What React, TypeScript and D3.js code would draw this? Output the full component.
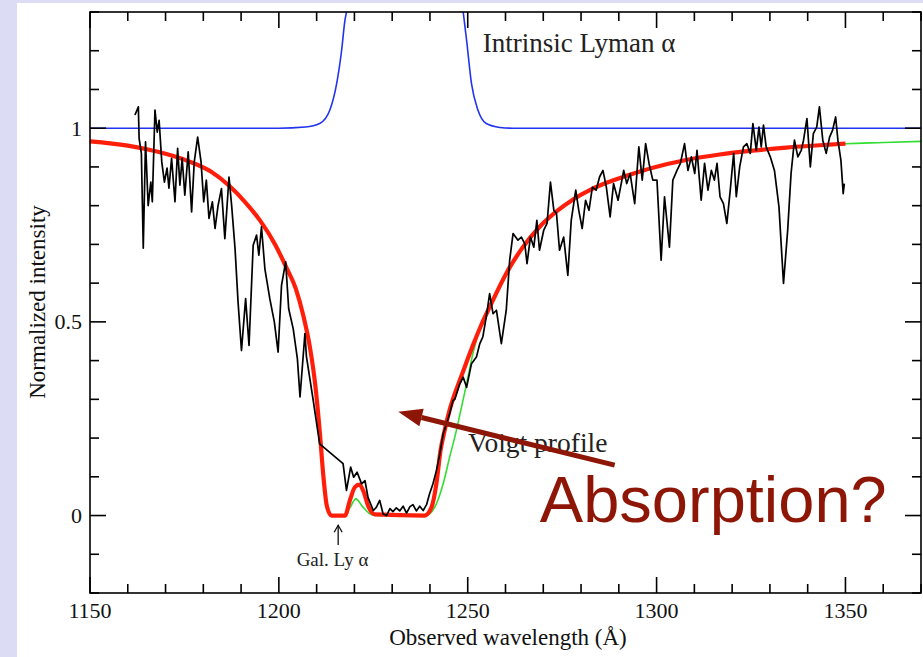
import { useEffect, useRef } from 'react';
import * as d3 from 'd3';

// Observed spectrum (black)
const spectrumWave = [
  1161.9, 1162.8, 1163.0, 1163.6, 1164.1, 1164.7, 1165.4, 1166.1, 1166.5, 1167.2, 1167.8, 1168.3, 1169.0, 1169.7,
  1170.4, 1170.9, 1171.6, 1172.5, 1173.2, 1173.8, 1174.4, 1175.1, 1176.0, 1176.9, 1177.6, 1178.5, 1179.4, 1180.1,
  1180.8, 1181.5, 1182.4, 1183.1, 1183.9, 1184.8, 1185.7, 1186.8, 1187.5, 1188.4, 1189.2, 1190.1, 1191.2, 1192.1,
  1193.2, 1194.1, 1194.7, 1195.4, 1196.3, 1197.6, 1198.8, 1199.8, 1200.7, 1201.8, 1202.6, 1203.8, 1204.9, 1205.6,
  1206.9, 1207.3, 1209.1, 1210.8, 1217.0, 1217.9, 1219.0, 1219.8, 1220.7, 1221.9, 1222.8, 1223.6, 1225.0, 1225.8,
  1226.7, 1227.6, 1228.5, 1229.4, 1230.2, 1231.1, 1232.0, 1232.9, 1233.8, 1234.7, 1235.5, 1236.4, 1237.3, 1238.2,
  1239.1, 1239.9, 1240.8, 1241.7, 1242.6, 1243.5, 1244.4, 1245.2, 1246.1, 1246.6, 1247.9, 1248.8, 1249.7, 1251.0,
  1252.3, 1253.2, 1254.0, 1254.9, 1255.8, 1256.7, 1257.6, 1258.9, 1260.2, 1261.1, 1262.0, 1263.3, 1264.2, 1265.1,
  1265.7, 1266.6, 1267.5, 1268.3, 1269.0, 1270.1, 1271.0, 1271.9, 1272.8, 1273.5, 1274.3, 1275.4, 1276.5, 1277.4,
  1278.6, 1279.4, 1280.3, 1281.2, 1282.1, 1283.0, 1284.0, 1284.9, 1285.8, 1286.7, 1287.7, 1288.6, 1289.8, 1291.3,
  1292.1, 1293.0, 1294.2, 1295.3, 1296.2, 1297.1, 1298.0, 1299.0, 1300.1, 1301.2, 1302.1, 1303.4, 1304.3, 1305.4,
  1306.3, 1307.4, 1308.3, 1309.2, 1310.1, 1310.7, 1311.8, 1312.7, 1313.6, 1314.5, 1315.3, 1316.0, 1316.8, 1317.7,
  1318.6, 1319.5, 1320.4, 1321.1, 1322.0, 1323.0, 1323.9, 1324.8, 1325.5, 1326.4, 1327.1, 1327.7, 1328.3, 1329.0,
  1330.1, 1331.2, 1332.4, 1333.6, 1334.7, 1335.6, 1336.5, 1337.4, 1338.3, 1338.9, 1339.8, 1340.7, 1341.5, 1342.4,
  1343.1, 1344.0, 1344.9, 1345.8, 1346.6, 1347.4, 1348.0, 1348.8, 1349.4, 1349.7,
];
const spectrumFlux = [
  1.034, 1.055, 0.974, 0.935, 0.69, 0.965, 0.8, 0.861, 0.81, 1.047, 0.99, 1.02, 0.913, 0.861,
  0.897, 0.845, 0.922, 0.81, 0.948, 0.853, 0.922, 0.827, 0.939, 0.784, 0.913, 0.977, 0.913, 0.81,
  0.866, 0.767, 0.81, 0.741, 0.8, 0.844, 0.715, 0.874, 0.8, 0.689, 0.551, 0.426, 0.56, 0.439,
  0.698, 0.724, 0.672, 0.745, 0.637, 0.56, 0.5, 0.422, 0.594, 0.655, 0.534, 0.482, 0.405, 0.306,
  0.47, 0.41, 0.297, 0.185, 0.134, 0.065, 0.125, 0.099, 0.112, 0.082, 0.09, 0.047, 0.013, 0.021,
  0.039, 0.004, 0.0, 0.018, 0.01, 0.02, 0.012, 0.024, 0.006, 0.023, 0.028, 0.012, 0.024, 0.013,
  0.028, 0.056, 0.082, 0.116, 0.159, 0.211, 0.237, 0.263, 0.297, 0.3, 0.34, 0.357, 0.331, 0.392,
  0.409, 0.444, 0.461, 0.512, 0.573, 0.521, 0.53, 0.444, 0.53, 0.659, 0.728, 0.711, 0.719, 0.702,
  0.65, 0.719, 0.693, 0.762, 0.685, 0.736, 0.754, 0.861, 0.788, 0.78, 0.685, 0.719, 0.62, 0.762,
  0.84, 0.788, 0.741, 0.814, 0.788, 0.848, 0.84, 0.874, 0.891, 0.848, 0.771, 0.857, 0.814, 0.891,
  0.857, 0.883, 0.805, 0.952, 0.866, 0.96, 0.909, 0.866, 0.866, 0.659, 0.823, 0.693, 0.866, 0.891,
  0.909, 0.96, 0.891, 0.926, 0.883, 0.943, 0.814, 0.909, 0.84, 0.891, 0.866, 0.909, 0.823, 0.805,
  0.754, 0.84, 0.935, 0.823, 0.9, 0.952, 0.96, 0.935, 1.012, 0.943, 1.003, 0.952, 1.008, 0.952,
  0.926, 0.891, 0.797, 0.599, 0.736, 0.883, 0.969, 0.926, 0.943, 0.969, 1.025, 0.9, 0.986, 1.003,
  1.055, 0.969, 0.935, 0.977, 0.995, 1.029, 0.969, 0.917, 0.831, 0.857,
];

// Voigt profile (red)
const voigtWave = [
  1150, 1160, 1168, 1176, 1182, 1187, 1191, 1195, 1199, 1202, 1204.5, 1206.5, 1208.3, 1209.6,
  1210.8, 1211.8, 1212.7, 1213.9, 1217.5, 1218.8, 1220.1, 1221.3, 1222.5, 1223.6, 1225.4, 1238.6, 1240.4, 1241.7,
  1242.8, 1243.9, 1245.2, 1246.6, 1248.0, 1249.6, 1251.4, 1253.5, 1255.8, 1260.2, 1264.6, 1269.0, 1273.5, 1277.9,
  1282.3, 1286.7, 1292.0, 1299.0, 1307.8, 1316.7, 1325.5, 1334.3, 1343.1, 1350,
];
const voigtFlux = [
  0.966, 0.955, 0.939, 0.915, 0.888, 0.85, 0.81, 0.762, 0.70, 0.64, 0.585, 0.515, 0.43, 0.34,
  0.22, 0.1, 0.025, 0, 0, 0.039, 0.073, 0.08, 0.06, 0.026, 0.003, 0, 0.021, 0.082,
  0.168, 0.22, 0.272, 0.315, 0.352, 0.394, 0.44, 0.49, 0.538, 0.625, 0.693, 0.745, 0.785, 0.816,
  0.84, 0.859, 0.877, 0.898, 0.918, 0.932, 0.942, 0.95, 0.956, 0.96,
];

// Second fit (green)
const fitWave = [
  1150, 1160, 1168, 1176, 1182, 1187, 1191, 1195, 1199, 1202, 1204.5, 1206.5, 1208.3, 1209.6,
  1210.8, 1211.8, 1212.7, 1213.9, 1217.5, 1218.8, 1220.4, 1222.0, 1224.0, 1225.4, 1238.6, 1240.0, 1241.7, 1243.5,
  1245.2, 1247.0, 1247.9, 1249.7, 1251.4, 1253.5, 1255.8, 1260.2, 1264.6, 1269.0, 1273.5, 1277.9, 1282.3, 1286.7,
  1292.0, 1299.0, 1307.8, 1316.7, 1325.5, 1334.3, 1343.1, 1350, 1360, 1370,
];
const fitFlux = [
  0.966, 0.955, 0.939, 0.915, 0.888, 0.85, 0.81, 0.762, 0.70, 0.64, 0.585, 0.515, 0.43, 0.34,
  0.22, 0.1, 0.025, 0, 0, 0.02, 0.043, 0.025, 0.005, 0, 0, 0.005, 0.03, 0.082,
  0.15, 0.22, 0.26, 0.34, 0.42, 0.49, 0.538, 0.625, 0.693, 0.745, 0.785, 0.816, 0.84, 0.859,
  0.877, 0.898, 0.918, 0.932, 0.942, 0.95, 0.956, 0.96, 0.963, 0.966,
];

// Intrinsic Lyman alpha (blue)
const intrinsicWave = [1150, 1200, 1207, 1210.8, 1213.5, 1215.3, 1216.6, 1217.5, 1217.9, 1233, 1248.8, 1249.7, 1251.0, 1252.7, 1254.9, 1258.5, 1262, 1370];
const intrinsicFlux = [1, 1, 1.003, 1.012, 1.047, 1.115, 1.2, 1.279, 1.3, 2.6, 1.3, 1.227, 1.115, 1.047, 1.012, 1.002, 1, 1];

const xMajorTicks = [1150, 1200, 1250, 1300, 1350];
const xTickLabels = ['1150', '1200', '1250', '1300', '1350'];
const yMajorTicks = [0, 0.5, 1];
const yTickLabels = ['0', '0.5', '1'];

const W = 923;
const H = 657;
const serif = '"Liberation Serif", "Times New Roman", serif';
const sans = '"Liberation Sans", Arial, sans-serif';

export default function App() {
  const svgRef = useRef<SVGSVGElement>(null);

  useEffect(() => {
    const svg = d3.select(svgRef.current);
    svg.selectAll('*').remove();

    const x = d3.scaleLinear().domain([1150, 1370]).range([90, 921]);
    const y = d3.scaleLinear().domain([-0.2, 1.3]).range([593, 12]);

    // page background
    svg.append('rect').attr('width', W).attr('height', H).attr('fill', '#dcdcf4');
    svg.append('rect').attr('x', 17).attr('y', 3).attr('width', W - 17).attr('height', H - 3).attr('fill', '#fff');

    svg.append('defs').append('clipPath').attr('id', 'plot-clip')
      .append('rect')
      .attr('x', x(1150)).attr('y', y(1.3))
      .attr('width', x(1370) - x(1150)).attr('height', y(-0.2) - y(1.3));

    const plot = svg.append('g').attr('clip-path', 'url(#plot-clip)');

    const pts = (w: number[], f: number[]) => w.map((v, i) => [v, f[i]] as [number, number]);
    const smooth = d3.line<[number, number]>().x(d => x(d[0])).y(d => y(d[1])).curve(d3.curveMonotoneX);
    const jagged = d3.line<[number, number]>().x(d => x(d[0])).y(d => y(d[1]));

    plot.append('path').attr('d', smooth(pts(intrinsicWave, intrinsicFlux)))
      .attr('fill', 'none').attr('stroke', '#2233ee').attr('stroke-width', 1.6);

    plot.append('path').attr('d', smooth(pts(fitWave, fitFlux)))
      .attr('fill', 'none').attr('stroke', '#33dd33').attr('stroke-width', 1.6);

    plot.append('path').attr('d', smooth(pts(voigtWave, voigtFlux)))
      .attr('fill', 'none').attr('stroke', '#ff1e0a').attr('stroke-width', 4.2)
      .attr('stroke-linejoin', 'round');

    plot.append('path').attr('d', jagged(pts(spectrumWave, spectrumFlux)))
      .attr('fill', 'none').attr('stroke', '#000').attr('stroke-width', 1.7)
      .attr('stroke-linejoin', 'round');

    // frame + inward ticks on all sides
    const axes = svg.append('g').attr('stroke', '#000').attr('stroke-width', 1.6);
    axes.append('rect')
      .attr('x', x(1150)).attr('y', y(1.3))
      .attr('width', x(1370) - x(1150)).attr('height', y(-0.2) - y(1.3))
      .attr('fill', 'none');

    d3.range(1150, 1371, 10).forEach(t => {
      const len = t % 50 === 0 ? 16 : 9;
      axes.append('line').attr('x1', x(t)).attr('x2', x(t)).attr('y1', y(-0.2)).attr('y2', y(-0.2) - len);
      axes.append('line').attr('x1', x(t)).attr('x2', x(t)).attr('y1', y(1.3)).attr('y2', y(1.3) + len);
    });
    d3.range(-2, 14).map(i => i / 10).forEach(t => {
      const len = Math.abs((t * 10) % 5) < 1e-6 ? 16 : 9;
      axes.append('line').attr('y1', y(t)).attr('y2', y(t)).attr('x1', x(1150)).attr('x2', x(1150) + len);
      axes.append('line').attr('y1', y(t)).attr('y2', y(t)).attr('x1', x(1370)).attr('x2', x(1370) - len);
    });

    // tick labels
    svg.selectAll('.xlab').data(xMajorTicks).join('text')
      .attr('x', d => x(d)).attr('y', 618)
      .attr('text-anchor', 'middle').attr('font-family', serif).attr('font-size', 22).attr('fill', '#111')
      .text((d, i) => xTickLabels[i]);
    svg.selectAll('.ylab').data(yMajorTicks).join('text')
      .attr('x', 82).attr('y', d => y(d)).attr('dy', '0.34em')
      .attr('text-anchor', 'end').attr('font-family', serif).attr('font-size', 22).attr('fill', '#111')
      .text((d, i) => yTickLabels[i]);

    // axis titles
    svg.append('text')
      .attr('x', 508).attr('y', 645)
      .attr('text-anchor', 'middle').attr('font-family', serif).attr('font-size', 23).attr('fill', '#111')
      .text('Observed wavelength (Å)');
    svg.append('text')
      .attr('transform', 'translate(45,302) rotate(-90)')
      .attr('text-anchor', 'middle').attr('font-family', serif).attr('font-size', 23).attr('fill', '#111')
      .text('Normalized intensity');

    // annotations
    svg.append('text')
      .attr('x', x(1254)).attr('y', y(1.197))
      .attr('font-family', serif).attr('font-size', 27).attr('fill', '#222')
      .text('Intrinsic Lyman α');
    svg.append('text')
      .attr('x', x(1250.1)).attr('y', y(0.163))
      .attr('font-family', serif).attr('font-size', 27.5).attr('fill', '#222')
      .text('Voigt profile');
    svg.append('text')
      .attr('x', x(1214.2)).attr('y', y(-0.13))
      .attr('text-anchor', 'middle').attr('font-family', serif).attr('font-size', 19).attr('fill', '#222')
      .text('Gal. Ly α');

    // small arrow to Gal. Ly alpha
    const ax = x(1215.7);
    svg.append('line').attr('x1', ax).attr('x2', ax).attr('y1', y(-0.076)).attr('y2', y(-0.025))
      .attr('stroke', '#111').attr('stroke-width', 1.3);
    svg.append('path')
      .attr('d', `M${ax - 4},${y(-0.025) + 7} L${ax},${y(-0.025)} L${ax + 4},${y(-0.025) + 7}`)
      .attr('fill', 'none').attr('stroke', '#111').attr('stroke-width', 1.3);

    // Absorption? arrow
    const red = '#8e1606';
    const tail: [number, number] = [x(1288.9), y(0.13)];
    const tip: [number, number] = [x(1231.6), y(0.268)];
    const ang = Math.atan2(tip[1] - tail[1], tip[0] - tail[0]);
    const headLen = 24;
    const headW = 9;
    const base: [number, number] = [tip[0] - headLen * Math.cos(ang), tip[1] - headLen * Math.sin(ang)];
    svg.append('line')
      .attr('x1', tail[0]).attr('y1', tail[1]).attr('x2', base[0]).attr('y2', base[1])
      .attr('stroke', red).attr('stroke-width', 5);
    svg.append('path')
      .attr('d', `M${tip[0]},${tip[1]} L${base[0] + headW * Math.sin(ang)},${base[1] - headW * Math.cos(ang)} L${base[0] - headW * Math.sin(ang)},${base[1] + headW * Math.cos(ang)} Z`)
      .attr('fill', red);

    svg.append('text')
      .attr('x', x(1269.1)).attr('y', y(-0.017))
      .attr('font-family', sans).attr('font-size', 65).attr('fill', red)
      .text('Absorption?');
  }, []);

  return (
    <svg ref={svgRef} width={W} height={H} style={{ position: 'absolute', left: 0, top: 0, display: 'block' }} />
  );
}
